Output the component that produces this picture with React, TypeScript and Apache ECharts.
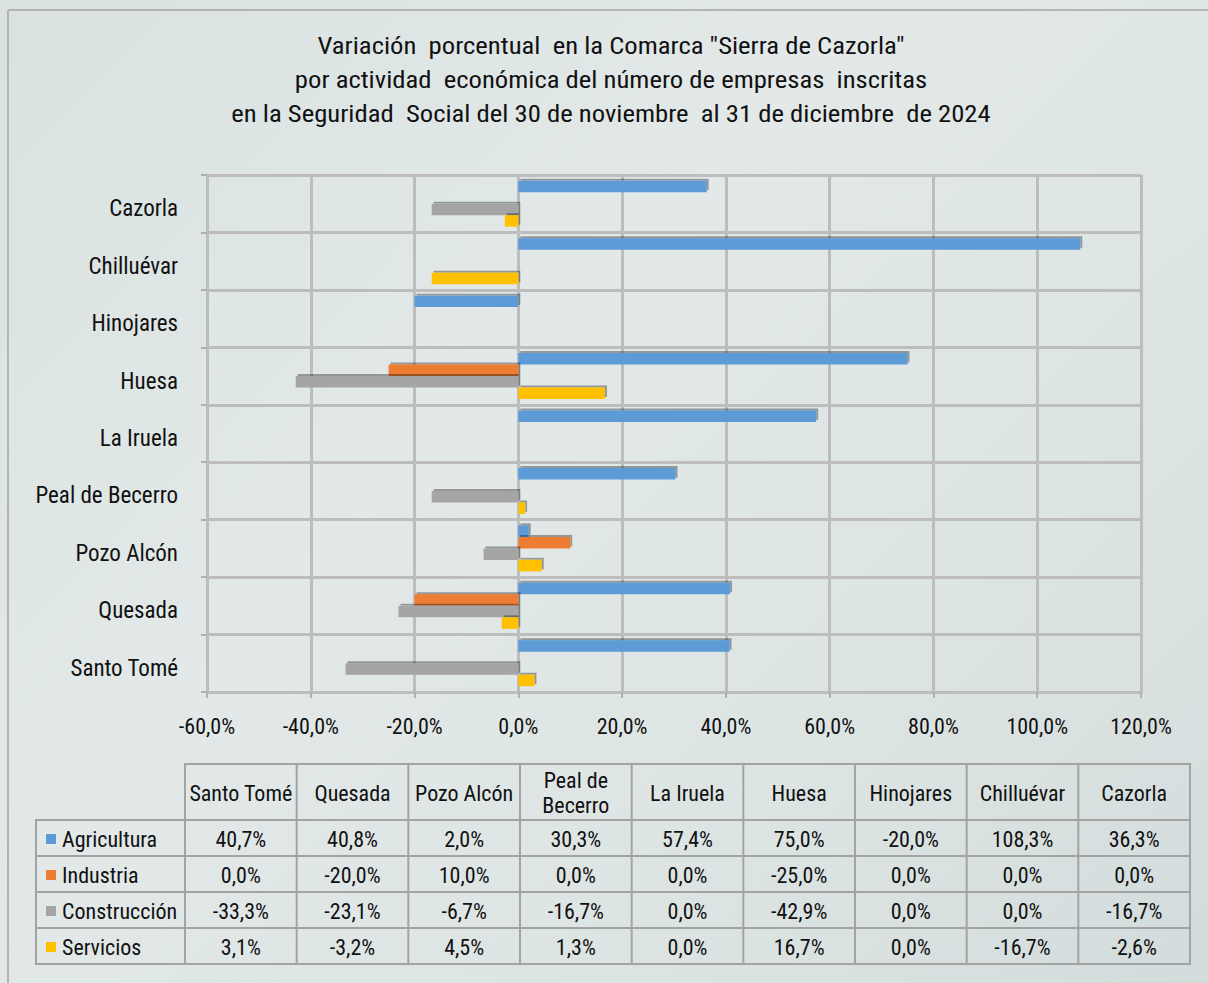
import React, { useEffect, useRef } from "react";
import * as echarts from "echarts";

const titleLines = [
  "Variación  porcentual  en la Comarca \"Sierra de Cazorla\"",
  "por actividad  económica del número de empresas  inscritas",
  "en la Seguridad  Social del 30 de noviembre  al 31 de diciembre  de 2024",
];
const categories = ["Cazorla", "Chilluévar", "Hinojares", "Huesa", "La Iruela", "Peal de Becerro", "Pozo Alcón", "Quesada", "Santo Tomé"];
const seriesNames = ["Agricultura", "Industria", "Construcción", "Servicios"];
const agricultura = [36.3, 108.3, -20.0, 75.0, 57.4, 30.3, 2.0, 40.8, 40.7];
const industria = [0.0, 0.0, 0.0, -25.0, 0.0, 0.0, 10.0, -20.0, 0.0];
const construccion = [-16.7, 0.0, 0.0, -42.9, 0.0, -16.7, -6.7, -23.1, -33.3];
const servicios = [-2.6, -16.7, 0.0, 16.7, 0.0, 1.3, 4.5, -3.2, 3.1];
const colors = ["#5b9bd5", "#ed7d31", "#a5a5a5", "#ffc000"];
const tableHeaders = ["Santo Tomé", "Quesada", "Pozo Alcón", "Peal de\nBecerro", "La Iruela", "Huesa", "Hinojares", "Chilluévar", "Cazorla"];

const FONT = "Roboto";
const fmt = (v: number) => v.toFixed(1).replace(".", ",") + "%";

export default function App() {
  const ref = useRef<HTMLDivElement>(null);
  useEffect(() => {
    if (!ref.current) return;
    const chart = echarts.init(ref.current, null, { renderer: "svg" });
    const allSeries = [agricultura, industria, construccion, servicios];

    const graphic: any[] = [];
    graphic.push({ type: "line", shape: { x1: 8, y1: 10, x2: 1208, y2: 10 }, style: { stroke: "#b4b4b4", lineWidth: 2 } });
    graphic.push({ type: "line", shape: { x1: 8, y1: 10, x2: 8, y2: 983 }, style: { stroke: "#b4b4b4", lineWidth: 2 } });
    titleLines.forEach((t, i) => {
      graphic.push({
        type: "text", x: 611, y: 46 + i * 34, scaleX: 1.16,
        style: { text: t, fontSize: 23, fontFamily: FONT, fill: "#111", align: "center", verticalAlign: "middle" },
      });
    });
    const tLeft = 36, c0 = 185, tRight = 1190;
    const colW = (tRight - c0) / 9;
    const hTop = 764, hBot = 820, rowH = 36;
    const border = "#a3a3a3";
    const tableBottom = hBot + rowH * 4;
    graphic.push({ type: "rect", shape: { x: c0, y: hTop, width: tRight - c0, height: hBot - hTop }, style: { fill: "none", stroke: border, lineWidth: 2 } });
    graphic.push({ type: "rect", shape: { x: tLeft, y: hBot, width: tRight - tLeft, height: rowH * 4 }, style: { fill: "none", stroke: border, lineWidth: 2 } });
    for (let c = 1; c < 9; c++) {
      const x = c0 + c * colW;
      graphic.push({ type: "line", shape: { x1: x, y1: hTop, x2: x, y2: tableBottom }, style: { stroke: border, lineWidth: 2 } });
    }
    graphic.push({ type: "line", shape: { x1: c0, y1: hBot, x2: c0, y2: tableBottom }, style: { stroke: border, lineWidth: 2 } });
    for (let r = 1; r < 4; r++) {
      const y = hBot + r * rowH;
      graphic.push({ type: "line", shape: { x1: tLeft, y1: y, x2: tRight, y2: y }, style: { stroke: border, lineWidth: 2 } });
    }
    tableHeaders.forEach((h, c) => {
      graphic.push({
        type: "text", x: c0 + c * colW + colW / 2, y: (hTop + hBot) / 2 + 1,
        style: { text: h, fontSize: 22, fontFamily: FONT, fill: "#111", align: "center", verticalAlign: "middle", lineHeight: 25 },
      });
    });
    seriesNames.forEach((name, r) => {
      const yc = hBot + r * rowH + rowH / 2 + 1;
      graphic.push({ type: "rect", shape: { x: 46, y: yc - 5, width: 10, height: 10 }, style: { fill: colors[r] } });
      graphic.push({
        type: "text", x: 62, y: yc,
        style: { text: name, fontSize: 22, fontFamily: FONT, fill: "#111", align: "left", verticalAlign: "middle" },
      });
      const vals = allSeries[r].slice().reverse();
      vals.forEach((v, c) => {
        graphic.push({
          type: "text", x: c0 + c * colW + colW / 2, y: yc,
          style: { text: fmt(v), fontSize: 22, fontFamily: FONT, fill: "#111", align: "center", verticalAlign: "middle" },
        });
      });
    });

    chart.setOption({
      animation: false,
      backgroundColor: "transparent",
      grid: { left: 207, right: 67, top: 175, bottom: 291, containLabel: false },
      xAxis: {
        type: "value", min: -60, max: 120, interval: 20,
        axisLabel: { formatter: (v: number) => fmt(v), fontSize: 22, fontFamily: FONT, color: "#111", margin: 23 },
        axisLine: { show: true, lineStyle: { color: "#bdbdbd", width: 3 } },
        axisTick: { show: true, length: 6, lineStyle: { color: "#b0b0b0", width: 2 } },
        splitLine: { show: true, lineStyle: { color: "#bdbdbd", width: 3 } },
      },
      yAxis: {
        type: "category", data: categories, inverse: true,
        axisLabel: {
          margin: 29,
          formatter: (v: string) => "{a|" + v + "}",
          rich: { a: { fontSize: 23, fontFamily: FONT, color: "#111", padding: [10, 0, 0, 0] } },
        },
        axisLine: { show: true, onZero: false, lineStyle: { color: "#bdbdbd", width: 3 } },
        axisTick: { show: true, length: 6, lineStyle: { color: "#b0b0b0", width: 2 } },
        splitLine: { show: true, lineStyle: { color: "#bdbdbd", width: 3 } },
      },
      series: seriesNames.map((name, i) => ({
        name, type: "bar", data: allSeries[i], barGap: "0%", barCategoryGap: "20%",
        itemStyle: {
          color: colors[i],
          shadowColor: "rgba(0,0,0,0.35)", shadowOffsetX: 2, shadowOffsetY: -2, shadowBlur: 1,
        },
      })),
      graphic,
    });
    return () => chart.dispose();
  }, []);

  return (
    <div style={{ position: "fixed", left: 0, top: 0, width: 1208, height: 983, fontStretch: "condensed", background: "linear-gradient(135deg, #d9e1e1 0%, #e3e9e9 40%, #dde4e4 70%, #d3dcdc 100%)" }}>
      <div ref={ref} style={{ width: 1208, height: 983, fontStretch: "condensed" }} />
    </div>
  );
}
